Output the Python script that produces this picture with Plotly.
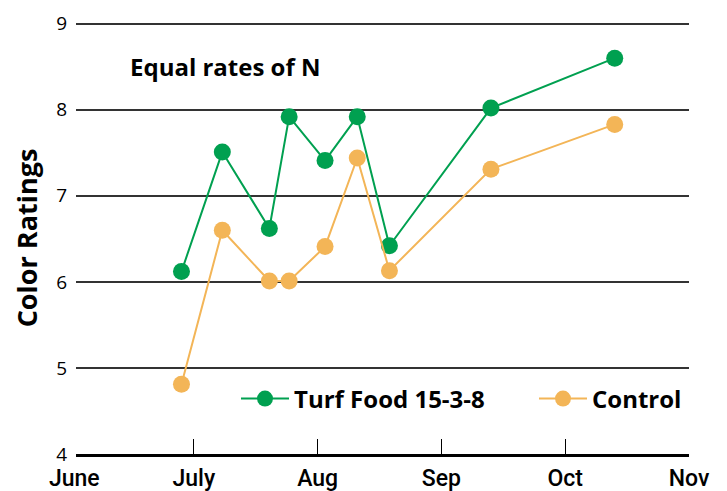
import plotly.graph_objects as go

months = ["June", "July", "Aug", "Sep", "Oct", "Nov"]
month_pos = [0.036, 1, 2, 3, 4, 5]

# sampling dates as month fractions (June 1 = 0)
sample_x = [0.90, 1.23, 1.61, 1.77, 2.06, 2.32, 2.58, 3.40, 4.40]
turf_food = [6.12, 7.51, 6.62, 7.92, 7.41, 7.92, 6.42, 8.02, 8.60]
control = [4.81, 6.60, 6.01, 6.01, 6.41, 7.44, 6.13, 7.31, 7.83]

green = "#00A050"
orange = "#F3B557"

# target plot box in page pixels (page has an 8px body margin)
L, R, T, B = 76, 689, 22, 454
PW, PH = R - L, B - T
YMAX = 9.02
XMIN = 0.048

fig = go.Figure()
fig.add_trace(go.Scatter(x=sample_x, y=turf_food, name="<b>Turf Food 15-3-8</b>",
                         mode="lines+markers", legend="legend",
                         line=dict(color=green, width=2),
                         marker=dict(color=green, size=17)))
fig.add_trace(go.Scatter(x=sample_x, y=control, name="<b>Control</b>",
                         mode="lines+markers", legend="legend2",
                         line=dict(color=orange, width=2),
                         marker=dict(color=orange, size=17)))

legfont = dict(family="Open Sans, sans-serif", size=24, color="black")
tickfont_x = dict(family="Roboto, sans-serif", size=23, color="black", weight=500)
fig.update_layout(
    width=719, height=483,
    margin=dict(l=L - 8, r=8 + 719 - R, t=T - 8, b=8 + 483 - B),
    plot_bgcolor="white", paper_bgcolor="white",
    showlegend=True,
    legend=dict(orientation="h", x=(236 - L) / PW, y=(B - 399) / PH, yanchor="middle", xanchor="left",
                font=legfont, bgcolor="rgba(0,0,0,0)", itemwidth=48),
    legend2=dict(orientation="h", x=(534 - L) / PW, y=(B - 399) / PH, yanchor="middle", xanchor="left",
                 font=legfont, bgcolor="rgba(0,0,0,0)", itemwidth=48),
    font=dict(family="Open Sans, sans-serif", color="black"),
)
fig.add_annotation(text="<b>Equal rates of N</b>", xref="paper", yref="paper",
                   x=(128 - L) / PW, y=(B - 66) / PH, xanchor="left", yanchor="middle",
                   showarrow=False, font=dict(size=24, family="Open Sans, sans-serif", color="black"))
# first month label sits at the very start of the axis (no tick mark there)
fig.add_annotation(text=months[0], xref="paper", yref="paper",
                   x=(month_pos[0] - XMIN) / (5 - XMIN), y=0,
                   xanchor="center", yanchor="middle", yshift=-24, showarrow=False,
                   font=tickfont_x)

fig.update_xaxes(range=[XMIN, 5], tickvals=month_pos[1:], ticktext=months[1:],
                 showgrid=False, zeroline=False, automargin=False,
                 showline=True, linecolor="black", linewidth=3,
                 ticks="inside", ticklen=15, tickcolor="black", tickwidth=1,
                 ticklabelstandoff=1,
                 tickfont=tickfont_x)
fig.update_yaxes(range=[4, YMAX], tickvals=[4, 5, 6, 7, 8, 9], showgrid=True, gridcolor="#333", gridwidth=1.5,
                 zeroline=False, showline=False, ticks="", automargin=False,
                 ticklabelstandoff=8,
                 tickfont=dict(family="Open Sans, sans-serif", size=19, color="black"),
                 title=dict(text="<b>Color Ratings</b>", font=dict(size=27, family="Open Sans, sans-serif", color="black"),
                            standoff=15))

fig.write_html("out.html")
